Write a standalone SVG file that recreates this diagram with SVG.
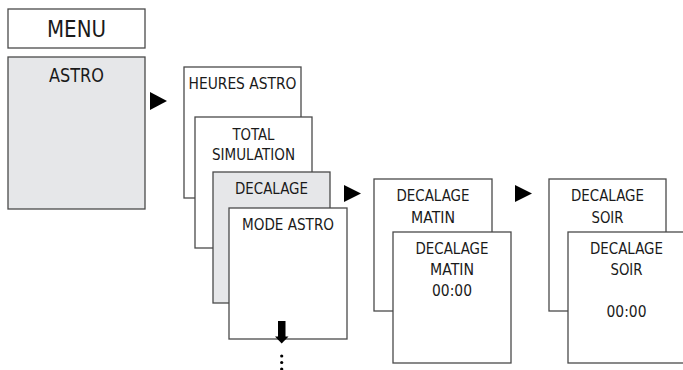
<svg xmlns="http://www.w3.org/2000/svg" width="683" height="370" viewBox="0 0 683 370">
<style>
.box{fill:#ffffff;stroke:#4a4a4a;stroke-width:1.3}
.gray{fill:#e6e7e9;stroke:#4a4a4a;stroke-width:1.3}
text{font-family:"Liberation Sans Narrow","DejaVu Sans Condensed","Liberation Sans",sans-serif;fill:#1a1a1a;text-anchor:middle;font-size:16.5px}
.big{font-size:23.5px}
.mid{font-size:19.5px}
.arr{fill:#000000}
</style>
<rect width="683" height="370" fill="#ffffff"/>
<g id="menu">
<rect class="box" x="8" y="9" width="137" height="39"/>
<text class="big" x="76.5" y="37" textLength="59" lengthAdjust="spacingAndGlyphs">MENU</text>
</g>
<g id="astro">
<rect class="gray" x="8" y="57" width="137" height="152"/>
<text class="mid" x="76.5" y="82" textLength="55" lengthAdjust="spacingAndGlyphs">ASTRO</text>
</g>
<g id="heures-astro">
<rect class="box" x="184" y="67" width="117" height="131"/>
<text x="242.5" y="89" textLength="108" lengthAdjust="spacingAndGlyphs">HEURES ASTRO</text>
</g>
<g id="total-simulation">
<rect class="box" x="195" y="117" width="117" height="131"/>
<text x="253.5" y="140" textLength="42" lengthAdjust="spacingAndGlyphs">TOTAL</text>
<text x="253.5" y="160" textLength="83" lengthAdjust="spacingAndGlyphs">SIMULATION</text>
</g>
<g id="decalage">
<rect class="gray" x="213" y="172" width="117" height="131"/>
<text x="271.5" y="194" textLength="73" lengthAdjust="spacingAndGlyphs">DECALAGE</text>
</g>
<g id="mode-astro">
<rect class="box" x="229" y="208" width="118" height="131"/>
<text x="288" y="230" textLength="92" lengthAdjust="spacingAndGlyphs">MODE ASTRO</text>
</g>
<g id="decalage-matin-menu">
<rect class="box" x="374" y="179" width="118" height="132"/>
<text x="433" y="201" textLength="73" lengthAdjust="spacingAndGlyphs">DECALAGE</text>
<text x="433" y="223" textLength="44" lengthAdjust="spacingAndGlyphs">MATIN</text>
</g>
<g id="decalage-matin-value">
<rect class="box" x="393" y="232" width="118" height="131"/>
<text x="452" y="254" textLength="73" lengthAdjust="spacingAndGlyphs">DECALAGE</text>
<text x="452" y="275" textLength="44" lengthAdjust="spacingAndGlyphs">MATIN</text>
<text x="452" y="296" textLength="40" lengthAdjust="spacingAndGlyphs">00:00</text>
</g>
<g id="decalage-soir-menu">
<rect class="box" x="549" y="179" width="117" height="132"/>
<text x="607.5" y="201" textLength="73" lengthAdjust="spacingAndGlyphs">DECALAGE</text>
<text x="607.5" y="223" textLength="32" lengthAdjust="spacingAndGlyphs">SOIR</text>
</g>
<g id="decalage-soir-value">
<rect class="box" x="568" y="232" width="117" height="131"/>
<text x="626.5" y="254" textLength="73" lengthAdjust="spacingAndGlyphs">DECALAGE</text>
<text x="626.5" y="275" textLength="32" lengthAdjust="spacingAndGlyphs">SOIR</text>
<text x="626.5" y="317" textLength="40" lengthAdjust="spacingAndGlyphs">00:00</text>
</g>
<g id="connectors">
<polygon class="arr" points="150,92 167,101 150,110"/>
<polygon class="arr" points="344,185 361,193.5 344,202"/>
<polygon class="arr" points="515,185 532,193.5 515,202"/>
<rect class="arr" x="278" y="321" width="7.5" height="17"/>
<polygon class="arr" points="275,336.5 288.5,336.5 281.7,343.5"/>
<circle class="arr" cx="281.7" cy="356" r="1.6"/>
<circle class="arr" cx="281.7" cy="362.5" r="1.6"/>
<circle class="arr" cx="281.7" cy="369" r="1.6"/>
</g>
</svg>
